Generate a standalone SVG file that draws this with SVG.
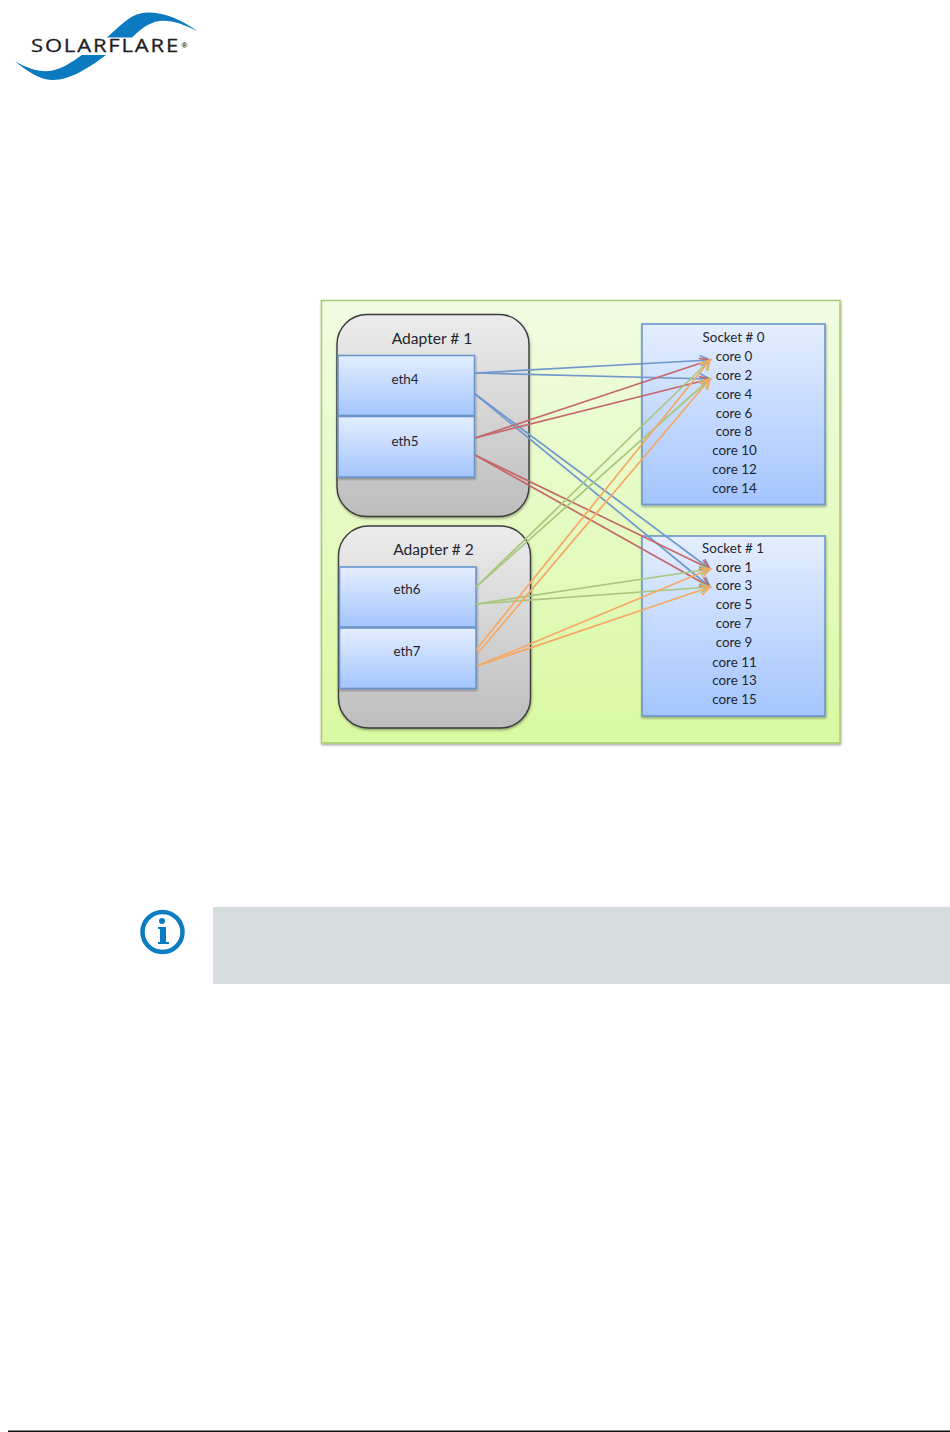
<svg xmlns="http://www.w3.org/2000/svg" width="950" height="1432" viewBox="0 0 950 1432">
<style>
text{font-family:"Lato","Open Sans","Liberation Sans",sans-serif;fill:#1f2530;text-anchor:middle}
.core{font-size:13.400px}
.eth{font-size:13.400px}
.ad{font-size:15.600px}
.box{fill:url(#gBox);stroke:#6a96cc;stroke-width:1.6;filter:url(#sh)}
.adapter{fill:url(#gAd);stroke:#3a3a3a;stroke-width:1.4;filter:url(#sh)}
.c{fill:none;stroke-width:1.7}
.b{stroke:#7198cc;marker-end:url(#mb)}
.r{stroke:#c4686a;marker-end:url(#mr)}
.g{stroke:#a9c77e;marker-end:url(#mg)}
.o{stroke:#f5a863;marker-end:url(#mo)}
</style>
<defs>
<linearGradient id="gPanel" x1="0" y1="0" x2="0" y2="1"><stop offset="0" stop-color="#f1fce2"/><stop offset="1" stop-color="#d9f9a2"/></linearGradient>
<linearGradient id="gAd" x1="0" y1="0" x2="0" y2="1"><stop offset="0" stop-color="#ececec"/><stop offset="1" stop-color="#bdbdbd"/></linearGradient>
<linearGradient id="gBox" x1="0" y1="0" x2="0" y2="1"><stop offset="0" stop-color="#e4eeff"/><stop offset="1" stop-color="#a4c5fe"/></linearGradient>
<filter id="sh" x="-5%" y="-5%" width="110%" height="110%"><feDropShadow dx="0.5" dy="1.5" stdDeviation="1.2" flood-color="#000" flood-opacity="0.35"/></filter>
<marker id="mb" markerUnits="userSpaceOnUse" markerWidth="14" markerHeight="14" refX="11" refY="6" orient="auto"><path d="M1 1L11 6L1 11" fill="none" stroke="#7198cc" stroke-width="1.700"/></marker>
<marker id="mr" markerUnits="userSpaceOnUse" markerWidth="14" markerHeight="14" refX="11" refY="6" orient="auto"><path d="M1 1L11 6L1 11" fill="none" stroke="#c4686a" stroke-width="1.700"/></marker>
<marker id="mg" markerUnits="userSpaceOnUse" markerWidth="14" markerHeight="14" refX="11" refY="6" orient="auto"><path d="M1 1L11 6L1 11" fill="none" stroke="#a9c77e" stroke-width="1.700"/></marker>
<marker id="mo" markerUnits="userSpaceOnUse" markerWidth="14" markerHeight="14" refX="11" refY="6" orient="auto"><path d="M1 1L11 6L1 11" fill="none" stroke="#f5a863" stroke-width="1.700"/></marker>
</defs>
<rect width="950" height="1432" fill="#fff"/>
<g id="logo">
<path fill="#0b7ac1" d="M198 31.500C180 19 165 12.500 148 12.500C132 12.500 122 24 107 37.500L132 37.500C142 28 150 22 160 21C172 20 185 25 198 31.500Z"/>
<path fill="#0b7ac1" d="M15 61.500C28 72 40 79.500 52 80C70 80.500 90 67 106 55L82 55C72 62 62 69 50 71C38 72 27 68 15 61.500Z"/>
<text x="105.500" y="52" font-size="18" textLength="149" lengthAdjust="spacingAndGlyphs" letter-spacing="1.500" stroke="#1e1e24" stroke-width="0.300" style="font-family:'Open Sans','Liberation Sans',sans-serif;fill:#1e1e24">SOLARFLARE</text>
<text x="184.500" y="47.500" font-size="8" font-weight="bold" style="font-family:'Liberation Sans',sans-serif;fill:#1e1e24">®</text>
</g>
<g id="panel"><rect x="321.500" y="300.500" width="518.500" height="442.500" fill="url(#gPanel)" stroke="#a9c96f" stroke-width="1.5" filter="url(#sh)"/></g>
<g id="adapter1"><rect class="adapter" x="337" y="314.500" width="192" height="202" rx="30"/><text class="ad" x="432" y="344">Adapter # 1</text></g>
<g id="adapter2"><rect class="adapter" x="338.500" y="526" width="192" height="202" rx="30"/><text class="ad" x="433.500" y="555">Adapter # 2</text></g>
<g id="eth4"><rect class="box" x="338" y="355.500" width="136.500" height="60"/><text class="eth" x="405" y="384">eth4</text></g>
<g id="eth5"><rect class="box" x="338" y="416.500" width="136.500" height="60.500"/><text class="eth" x="405" y="446">eth5</text></g>
<g id="eth6"><rect class="box" x="339.500" y="567" width="136.500" height="60"/><text class="eth" x="407" y="594">eth6</text></g>
<g id="eth7"><rect class="box" x="339.500" y="628" width="136.500" height="60.500"/><text class="eth" x="407" y="656">eth7</text></g>
<g id="socket0"><rect class="box" x="642" y="324" width="183" height="180.500"/>
<text class="core" x="733.500" y="342">Socket # 0</text><text class="core" x="734" y="361">core 0</text><text class="core" x="734" y="380">core 2</text><text class="core" x="734" y="398.500">core 4</text><text class="core" x="734" y="417.500">core 6</text><text class="core" x="734" y="436">core 8</text><text class="core" x="734.500" y="455">core 10</text><text class="core" x="734.500" y="474">core 12</text><text class="core" x="734.500" y="492.500">core 14</text></g>
<g id="socket1"><rect class="box" x="642" y="536" width="183" height="180"/>
<text class="core" x="733" y="552.500">Socket # 1</text><text class="core" x="734" y="571.500">core 1</text><text class="core" x="734" y="590">core 3</text><text class="core" x="734" y="609">core 5</text><text class="core" x="734" y="627.500">core 7</text><text class="core" x="734" y="646.500">core 9</text><text class="core" x="734.500" y="666.500">core 11</text><text class="core" x="734.500" y="685">core 13</text><text class="core" x="734.500" y="704">core 15</text></g>
<g id="connectors">
<path class="c b" d="M475 373L710 360"/>
<path class="c b" d="M475 373L710 379"/>
<path class="c b" d="M475 394L710 569"/>
<path class="c b" d="M475 394L710 587"/>
<path class="c r" d="M475 438L710 360"/>
<path class="c r" d="M475 438L710 379"/>
<path class="c r" d="M475 455L710 569"/>
<path class="c r" d="M475 455L710 587"/>
<path class="c g" d="M476 587L710 360"/>
<path class="c g" d="M476 587L710 379"/>
<path class="c g" d="M476 604L710 569"/>
<path class="c g" d="M476 604L710 587"/>
<path class="c o" d="M476 650L710 360"/>
<path class="c o" d="M478 653L710 379"/>
<path class="c o" d="M477 666L710 569"/>
<path class="c o" d="M477 666L710 587"/>
</g>
<g id="note">
<circle cx="162.500" cy="932" r="20" fill="#fff" stroke="#0a7dc2" stroke-width="4.500"/>
<circle cx="162" cy="921" r="3" fill="#0a7dc2"/>
<path fill="#0a7dc2" d="M158 927H166V942H169V944H158V942H160V929H158Z"/>
<rect x="213" y="907" width="737" height="77" fill="#d4dcdd"/>
</g>
<rect id="footer-rule" x="8" y="1430.500" width="942" height="1.500" fill="#111"/>
</svg>
